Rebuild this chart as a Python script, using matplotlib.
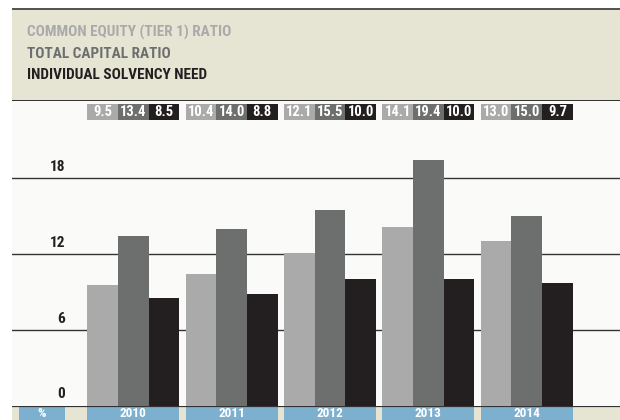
import matplotlib
matplotlib.use("Agg")
import matplotlib.pyplot as plt
from matplotlib import font_manager
from matplotlib.patches import Rectangle
import numpy as np

years = ["2010", "2011", "2012", "2013", "2014"]
series_names = ["COMMON EQUITY (TIER 1) RATIO", "TOTAL CAPITAL RATIO", "INDIVIDUAL SOLVENCY NEED"]
cet1 = [9.5, 10.4, 12.1, 14.1, 13.0]
total_capital = [13.4, 14.0, 15.5, 19.4, 15.0]
solvency_need = [8.5, 8.8, 10.0, 10.0, 9.7]
yticks = [0, 6, 12, 18]
unit_label = "%"

colors = ["#aaaaaa", "#6d6f6e", "#231f20"]
beige = "#e6e5d3"
blue = "#7db0cf"
chart_bg = "#fafaf8"

names = {f.name for f in font_manager.fontManager.ttflist}
fam = None
stretch = "normal"
for cand in ["Liberation Sans Narrow", "Roboto Condensed", "Open Sans Condensed"]:
    if cand in names:
        fam = cand
        break
if fam is None:
    fam = "DejaVu Sans"
    stretch = "condensed"
plt.rcParams["font.family"] = [fam, "DejaVu Sans"]
plt.rcParams["font.stretch"] = stretch
plt.rcParams["font.weight"] = "bold"

W, H = 620, 420
fig = plt.figure(figsize=(W / 100, H / 100), dpi=100)
fig.patch.set_facecolor("white")

def fx(px):
    return px / W

def fy(py):
    return 1 - py / H

# header panel
fig.patches.append(Rectangle((fx(12), fy(100)), fx(608), (90) / H, transform=fig.transFigure,
                             facecolor=beige, edgecolor="none", zorder=0))
fig.patches.append(Rectangle((fx(12), fy(10)), fx(608), 2 / H, transform=fig.transFigure,
                             facecolor="#555555", edgecolor="none", zorder=1))
fig.patches.append(Rectangle((fx(12), fy(101)), fx(608), 1.2 / H, transform=fig.transFigure,
                             facecolor="#333333", edgecolor="none", zorder=1))

text_bottoms = [37, 58, 79]
for name, c, yb in zip(series_names, colors, text_bottoms):
    fig.text(fx(27), fy(yb), name, color=c, fontsize=11, fontweight="bold",
             ha="left", va="baseline")

# main axes
y0_px = 405.5
px_per_unit = (405.5 - 178) / 18
ax = fig.add_axes([fx(12), fy(y0_px), fx(608), (y0_px - 101) / H])
ax.set_facecolor(chart_bg)
ymax = (y0_px - 101) / px_per_unit
ax.set_ylim(0, ymax)
pitch = 98.35
c0 = 133.3
xl = (12 - c0) / pitch
xr = (620 - c0) / pitch
ax.set_xlim(xl, xr)
for s in ax.spines.values():
    s.set_visible(False)
ax.set_xticks([])
ax.set_yticks([])

for t in yticks[1:]:
    ax.axhline(t, color="#333333", lw=1.0, zorder=1)

x = np.arange(len(years))
bw = 0.312
series = [cet1, total_capital, solvency_need]
box_lo = (y0_px - 120) / px_per_unit
box_hi = (y0_px - 104) / px_per_unit
for k, (vals, c) in enumerate(zip(series, colors)):
    xs = x + (k - 1) * bw
    ax.bar(xs, vals, width=bw, color=c, zorder=2, linewidth=0)
    ax.bar(xs, box_hi - box_lo, bottom=box_lo, width=bw, color=c, zorder=2, linewidth=0)
    for xi, v in zip(xs, vals):
        ax.text(xi, (box_lo + box_hi) / 2, f"{v:.1f}", color="white", fontsize=10.5,
                fontweight="bold", ha="center", va="center", zorder=3)

for t in yticks:
    ax.annotate(str(t), xy=(xl, t), xycoords="data",
                xytext=(65 - 12, 4), textcoords="offset pixels",
                ha="right", va="bottom", fontsize=11, fontweight="bold", color="#231f20")

# bottom strip
ax2 = fig.add_axes([fx(12), 0, fx(608), (H - y0_px) / H])
ax2.set_facecolor(beige)
ax2.set_xlim(xl, xr)
ax2.set_ylim(0, 1)
for s in ax2.spines.values():
    s.set_visible(False)
ax2.set_xticks([])
ax2.set_yticks([])
gw = 0.935
ax2.bar(x, 1, width=gw, bottom=0, color=blue, linewidth=0)
pl, pr = (19 - c0) / pitch, (65 - c0) / pitch
ax2.bar([(pl + pr) / 2], 1, width=pr - pl, color=blue, linewidth=0)
ax2.axhline(1, color="#333333", lw=1.6)
for xi, yr in zip(x, years):
    ax2.text(xi, 0.42, yr, color="white", fontsize=9.5, fontweight="bold", ha="center",
             va="center")
ax2.text((pl + pr) / 2, 0.42, unit_label, color="white", fontsize=9.5, fontweight="bold",
         ha="center", va="center")

fig.savefig("out.png", dpi=100, facecolor=fig.get_facecolor())
